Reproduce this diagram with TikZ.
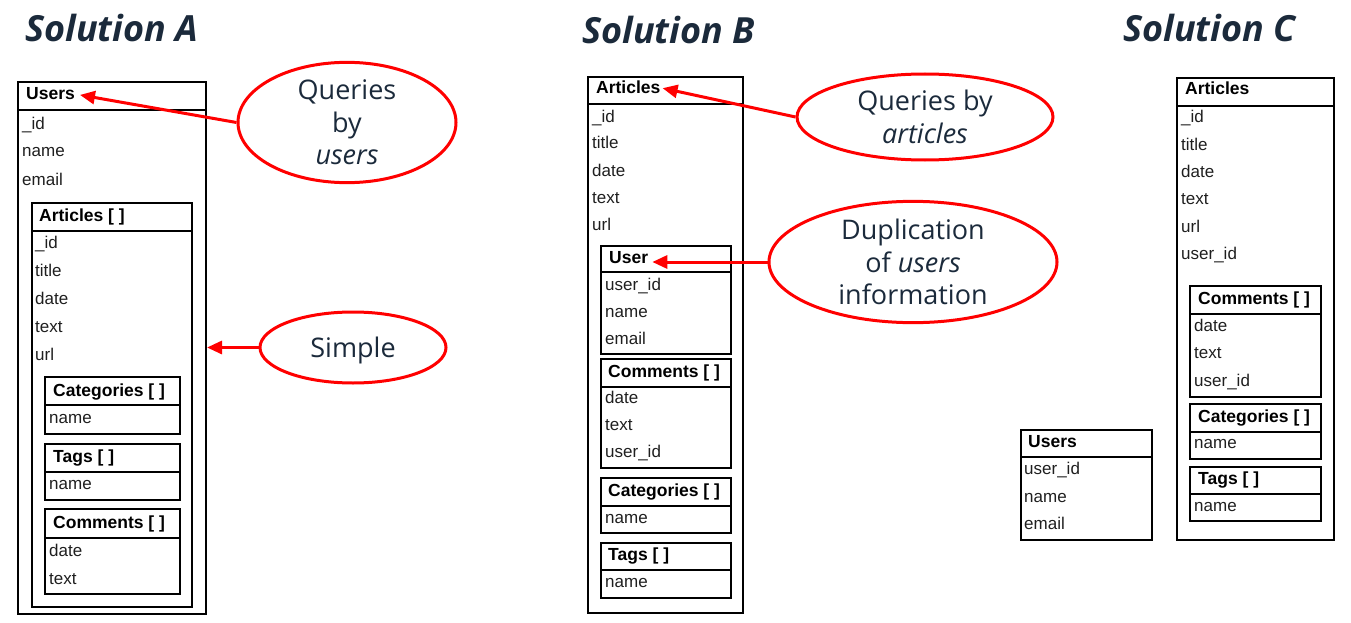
\documentclass[tikz,border=0pt]{standalone}
\usepackage{fontspec}
\setmainfont{Liberation Sans}
\newfontfamily\osans{Open Sans}
\usetikzlibrary{shapes.geometric,arrows.meta,fit}
\definecolor{navy}{RGB}{27,42,59}
\definecolor{myred}{RGB}{255,0,0}
\newcommand\tbox[6]{%
  \node[box, fit={(#2,#3) (#4,#5)}] (#1) {};
  \draw[divl] (#2,#6) -- (#4,#6);}
\newcommand\rows[4]{% prefix, x, list text/baseline
  \foreach \t/\yy [count=\i] in {#3} \node[fld] (#1r\i) at (#2,\yy) {\t};}
\begin{document}
\begin{tikzpicture}[x=1pt,y=-1pt,
  box/.style={draw=black, line width=2pt, inner sep=0pt},
  divl/.style={draw=black, line width=2.2pt},
  hd/.style={anchor=base west, inner sep=0pt, font=\fontsize{17.5}{20}\selectfont\bfseries},
  fld/.style={anchor=base west, inner sep=0pt, text=black!88, font=\fontsize{17}{20}\selectfont},
  ttl/.style={anchor=base west, inner sep=0pt, text=navy, font=\osans\fontsize{36}{40}\selectfont\bfseries\itshape},
  bubble/.style={ellipse, draw=myred, line width=3pt, inner sep=0pt, text=navy, align=center, font=\osans\fontsize{27}{32.5}\selectfont},
  arr/.style={draw=myred, line width=3pt, -{Triangle[length=15pt,width=13pt]}},
]
\useasboundingbox (0,0) rectangle (1351,623);

% ---------- Titles
\node[ttl] (tA) at (25,42) {Solution A};
\node[ttl] (tB) at (582,44) {Solution B};
\node[ttl] (tC) at (1123,42) {Solution C};

% ---------- Solution A
\tbox{aU}{18}{82}{206}{614}{110}
\node[hd] (aUh) at (26,100) {Users};
\rows{aU}{22}{\_id/129, name/157, email/185}{}
\tbox{aA}{32}{203}{192}{607}{231}
\node[hd] (aAh) at (39,221) {Articles [ ]};
\rows{aA}{35}{\_id/248, title/276, date/304, text/332, url/360}{}
\tbox{aCa}{45}{377}{180}{434}{405}
\node[hd] (aCah) at (53,396) {Categories [ ]};
\rows{aCa}{49}{name/423}{}
\tbox{aT}{45}{444}{180}{500}{472}
\node[hd] (aTh) at (53,462) {Tags [ ]};
\rows{aT}{49}{name/489}{}
\tbox{aCo}{45}{509}{180}{594}{538}
\node[hd] (aCoh) at (53,528) {Comments [ ]};
\rows{aCo}{49}{date/556, text/584}{}

\node[bubble, minimum width=218pt, minimum height=96pt] (e1) at (347,122.5) {Queries\\by\\\textit{users}};
\node[bubble, minimum width=186pt, minimum height=71pt, text height=25pt, text depth=6pt] (e2) at (353,347.5) {Simple};
\draw[arr, shorten >=5pt] (e1.west) -- (aUh.east);
\draw[arr] (e2.west) -- (e2.west -| aU.east);

% ---------- Solution B
\tbox{bA}{588}{77}{743}{613}{104}
\node[hd] (bAh) at (596,94) {Articles};
\rows{bA}{592}{\_id/122, title/149, date/176, text/203, url/230}{}
\tbox{bU}{601}{246}{731}{354}{272}
\node[hd] (bUh) at (609,263) {User};
\rows{bU}{605}{user\_id/290, name/317, email/344}{}
\tbox{bCo}{601}{359}{731}{468}{387}
\node[hd] (bCoh) at (608,377) {Comments [ ]};
\rows{bCo}{605}{date/403, text/430, user\_id/457}{}
\tbox{bCa}{601}{478}{731}{533}{506}
\node[hd] (bCah) at (608,496) {Categories [ ]};
\rows{bCa}{605}{name/523}{}
\tbox{bT}{601}{543}{731}{598}{570}
\node[hd] (bTh) at (608,560) {Tags [ ]};
\rows{bT}{605}{name/587}{}

\node[bubble, minimum width=256pt, minimum height=86pt] (e3) at (925,117) {Queries by\\\textit{articles}};
\node[bubble, minimum width=288pt, minimum height=120pt] (e4) at (913,262) {Duplication\\of \textit{users}\\information};
\draw[arr, shorten >=2pt] (e3.west) -- (bAh.east);
\draw[arr, shorten >=4pt] (e4.west) -- (e4.west -| bUh.east);

% ---------- Solution C
\tbox{cA}{1177}{78}{1334}{540}{106}
\node[hd] (cAh) at (1185,95) {Articles};
\rows{cA}{1181}{\_id/123, title/150, date/177, text/204, url/232, user\_id/259}{}
\tbox{cCo}{1190}{286}{1321}{397}{314}
\node[hd] (cCoh) at (1198,304) {Comments [ ]};
\rows{cCo}{1194}{date/331, text/358, user\_id/386}{}
\tbox{cCa}{1190}{404}{1321}{459}{432}
\node[hd] (cCah) at (1198,422) {Categories [ ]};
\rows{cCa}{1194}{name/448}{}
\tbox{cT}{1190}{467}{1321}{521}{494}
\node[hd] (cTh) at (1198,484) {Tags [ ]};
\rows{cT}{1194}{name/511}{}
\tbox{cU}{1021}{430}{1152}{540}{457}
\node[hd] (cUh) at (1028,447) {Users};
\rows{cU}{1024}{user\_id/474, name/502, email/529}{}
\end{tikzpicture}
\end{document}
